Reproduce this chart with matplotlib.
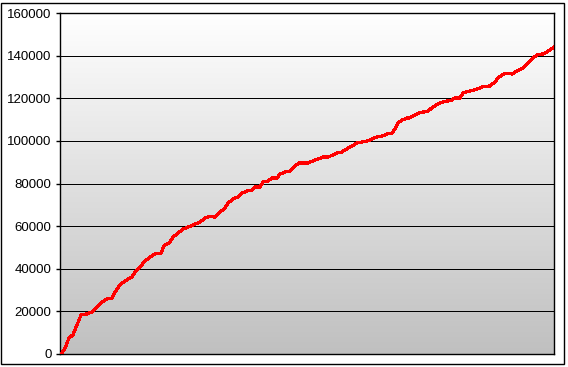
import numpy as np
import matplotlib
matplotlib.use('Agg')
import matplotlib.pyplot as plt
from matplotlib.patches import Rectangle

plt.rcParams['font.family'] = ['Liberation Sans', 'DejaVu Sans']

# cumulative series (x = sample position, y = running total)
x_pos = [1, 5, 9, 13, 17, 21, 27, 32, 37, 42, 47, 52, 55, 60, 65, 72, 75, 80,
         85, 90, 95, 101, 104, 110, 113, 118, 123, 128, 133, 140, 145, 150,
         155, 160, 165, 168, 173, 178, 182, 187, 192, 195, 200, 203, 208, 212,
         217, 220, 225, 230, 235, 239, 243, 248, 253, 258, 263, 268, 273, 277,
         282, 285, 290, 297, 302, 307, 312, 317, 322, 327, 332, 335, 338, 342,
         347, 349, 355, 359, 363, 368, 373, 380, 383, 392, 395, 400, 403, 410,
         417, 422, 430, 435, 438, 445, 452, 457, 463, 468, 473, 477, 483, 487,
         494]
totals = [0, 2800, 7500, 9000, 13600, 18300, 18800, 19700, 22000, 24400,
          25800, 26300, 29100, 32400, 34300, 36100, 38500, 40800, 43600, 45500,
          46900, 47400, 50700, 52500, 54900, 56700, 58600, 59600, 60500, 61900,
          63800, 64700, 64200, 66600, 68500, 70800, 72700, 73700, 75500, 76500,
          76900, 78400, 78400, 80700, 81200, 82600, 82600, 84400, 85400, 85800,
          88200, 89600, 89600, 89600, 90600, 91500, 92400, 92400, 93400, 94300,
          94800, 95700, 97100, 99000, 99500, 99900, 100900, 101800, 102300,
          103200, 103700, 105600, 108400, 109800, 110700, 110700, 112100,
          113100, 113500, 114000, 115900, 117800, 118200, 119200, 120100,
          120100, 122500, 123400, 124300, 125300, 125800, 127600, 129500,
          131800, 131400, 132800, 134200, 136500, 138900, 140300, 140800,
          141700, 144000]
y_ticks = list(range(0, 160001, 20000))

fig = plt.figure(figsize=(5.68, 3.67), dpi=100)
fig.patch.set_facecolor('white')
ax = fig.add_axes([60 / 568, 13 / 367, 494 / 568, 341 / 367])

# vertical gradient background, white at top to grey at bottom
grad = np.linspace(0, 1, 256).reshape(-1, 1)
cmap = matplotlib.colors.LinearSegmentedColormap.from_list('bg', ['#c0c0c0', '#ffffff'])
ax.imshow(grad, cmap=cmap, aspect='auto', origin='lower',
          extent=[0, 494, 0, 160000], zorder=0)

for t in y_ticks[1:-1]:
    ax.axhline(t, color='black', lw=0.72, zorder=1, antialiased=False)

ax.plot(x_pos, totals, color='#ff0000', lw=1.6, zorder=3, antialiased=False)

ax.set_xlim(0, 494)
ax.set_ylim(0, 160000)
ax.set_xticks([])
ax.set_yticks(y_ticks)
ax.set_yticklabels([str(t) for t in y_ticks], fontsize=9.5)
ax.tick_params(axis='y', length=3, width=1, pad=3, direction='out')
for s in ax.spines.values():
    s.set_color('black')
    s.set_linewidth(1.0)

fig.patches.append(Rectangle((1 / 568, 3 / 367), 563 / 568, 361 / 367,
                             transform=fig.transFigure, fill=False,
                             edgecolor='black', lw=1.0))

fig.savefig('out.png', dpi=100)
